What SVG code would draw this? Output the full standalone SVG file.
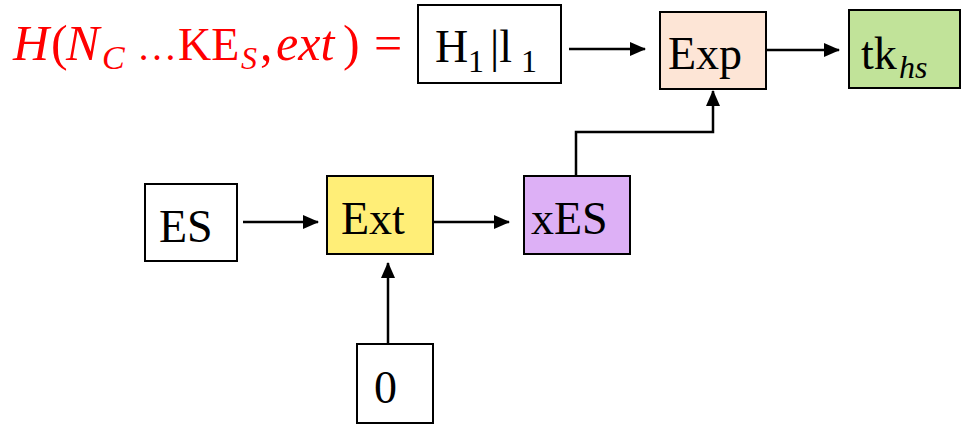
<svg xmlns="http://www.w3.org/2000/svg" width="963" height="424" viewBox="0 0 963 424">
<style>
.box{stroke:#000;stroke-width:2}
.t{font-family:"Liberation Serif","Times New Roman",serif;font-size:46px;fill:#000}
.sub{font-size:32px}
.it{font-style:italic}
.red{fill:#FF0000;font-family:"Liberation Serif","Times New Roman",serif;font-size:50px}
.c{stroke:#000;stroke-width:2.5;fill:none}
</style>
<defs>
<marker id="ah" markerUnits="userSpaceOnUse" markerWidth="16" markerHeight="14" refX="15" refY="7" orient="auto">
<path d="M0,0 L16,7 L0,14 Z" fill="#000"/>
</marker>
</defs>
<text class="red"><tspan class="it" x="13" y="60">H</tspan><tspan x="51" y="60">(</tspan><tspan class="it" x="66" y="60">N</tspan><tspan class="it" x="102" y="69" font-size="34">C</tspan><tspan x="137" y="60" font-size="40">…</tspan><tspan x="178" y="60" font-size="46">KE</tspan><tspan class="it" x="241" y="69" font-size="32">S</tspan><tspan x="260" y="60">,</tspan><tspan class="it" x="276" y="60">ext</tspan><tspan x="343" y="60">)</tspan><tspan x="374" y="60">=</tspan></text>
<g id="connectors">
<line class="c" x1="569" y1="49" x2="645" y2="49" marker-end="url(#ah)"/>
<line class="c" x1="767" y1="50" x2="839" y2="50" marker-end="url(#ah)"/>
<polyline class="c" points="576,176 576,132 713,132 713,91" marker-end="url(#ah)"/>
<line class="c" x1="243" y1="222" x2="318" y2="222" marker-end="url(#ah)"/>
<line class="c" x1="434" y1="222" x2="509" y2="222" marker-end="url(#ah)"/>
<line class="c" x1="388" y1="344" x2="388" y2="263" marker-end="url(#ah)"/>
</g>
<g id="node-h1l1"><rect class="box" x="418" y="5" width="143" height="78" fill="#FFFFFF"/><text class="t"><tspan x="435" y="62">H</tspan><tspan class="sub" x="468" y="72">1</tspan><tspan x="490" y="62">|l</tspan><tspan class="sub" x="521" y="72">1</tspan></text></g>
<g id="node-exp"><rect class="box" x="660" y="12" width="106" height="77" fill="#FDE5D6"/><text class="t" x="668" y="69">Exp</text></g>
<g id="node-tk"><rect class="box" x="849" y="10" width="111" height="78" fill="#C1E399"/><text class="t"><tspan x="861" y="69">tk</tspan><tspan class="sub it" x="899" y="78">hs</tspan></text></g>
<g id="node-es"><rect class="box" x="145" y="184" width="92" height="77" fill="#FFFFFF"/><text class="t" x="159" y="242">ES</text></g>
<g id="node-ext"><rect class="box" x="327" y="176" width="106" height="78" fill="#FFEE77"/><text class="t" x="341" y="234">Ext</text></g>
<g id="node-xes"><rect class="box" x="524" y="176" width="106" height="78" fill="#DDB0F6"/><text class="t" x="531" y="234">xES</text></g>
<g id="node-0"><rect class="box" x="357" y="344" width="76" height="79" fill="#FFFFFF"/><text class="t" x="374" y="403">0</text></g>
</svg>
